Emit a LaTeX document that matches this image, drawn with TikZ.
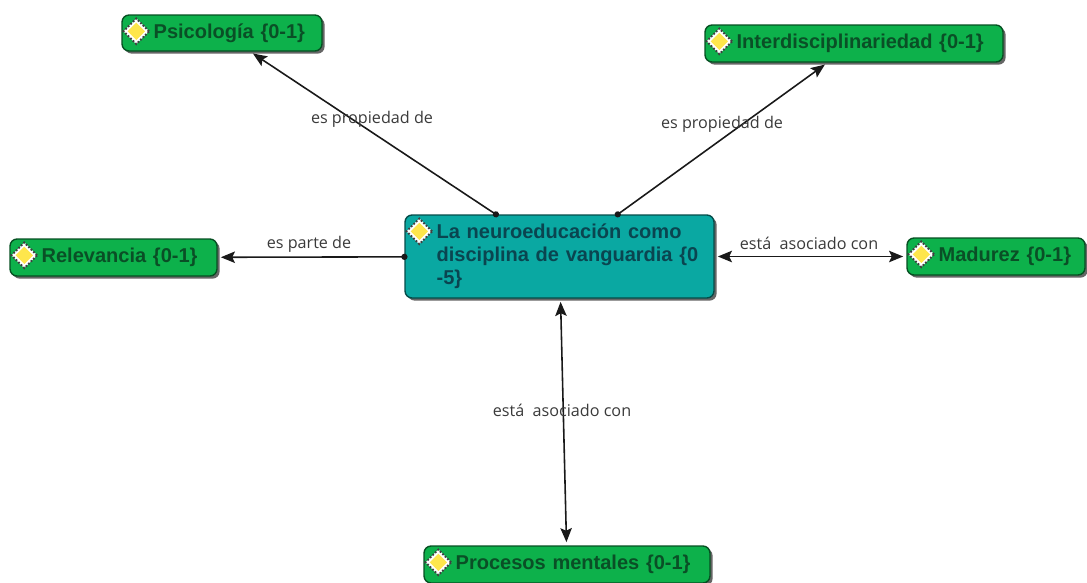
\documentclass[tikz,border=0pt]{standalone}
\usepackage{fontspec}
\setmainfont{Liberation Sans}
\newfontfamily\linkfont{Open Sans}
\usetikzlibrary{arrows.meta,shapes.geometric,shadows}
\definecolor{boxgreen}{HTML}{0DB14B}
\definecolor{boxteal}{HTML}{0AA8A2}
\definecolor{textgreen}{HTML}{0A4F26}
\definecolor{textteal}{HTML}{0A4550}
\definecolor{linktext}{HTML}{3A3A3A}
\tikzset{
  conceptbox/.style={draw=#1!45!black,fill=#1,line width=0.8pt,rounded corners=4pt,
    drop shadow={shadow xshift=1.5pt,shadow yshift=-1.5pt,fill=black,opacity=0.6},
    inner xsep=0pt,inner ysep=0pt,align=left,font=\fontsize{11.4}{13}\selectfont\bfseries},
  iconhalo/.style={diamond,draw=black!75,fill=white,dash pattern=on 1pt off 1pt,line width=1.1pt,
    minimum size=15pt,inner sep=0pt},
  iconmark/.style={diamond,fill=yellow!80!orange!70,minimum size=10pt,inner sep=0pt},
  linklabel/.style={text=linktext,font=\linkfont\fontsize{9.2}{11}\selectfont,inner sep=0pt},
  onearrow/.style={{Circle[length=3.5pt]}-{Stealth[length=8pt,width=6.5pt,inset=1.5pt]},
    line width=0.9pt,black!90,shorten <=-1.8pt,shorten >=1.8pt},
  bothways/.style={{Stealth[length=8pt,width=6.5pt,inset=1.5pt]}-{Stealth[length=8pt,width=6.5pt,inset=1.5pt]},
    line width=0.9pt,black!90,shorten <=1.8pt,shorten >=1.8pt}
}
\newcommand{\gap}{\hspace*{18pt}}
\begin{document}
\begin{tikzpicture}[x=0.02cm,y=-0.02cm]
\useasboundingbox (0,0) rectangle (1087,582);

\node[conceptbox=boxteal,text=textteal,text width=6.18cm,minimum height=1.66cm] (central) at (559.5,256.5)
  {\gap La neuroeducación como\\\gap disciplina de vanguardia \{0\\\gap -5\}};
\node[conceptbox=boxgreen,text=textgreen,text width=4cm,minimum height=0.72cm] (psicologia) at (222,33)
  {\gap Psicología \{0-1\}};
\node[conceptbox=boxgreen,text=textgreen,text width=5.96cm,minimum height=0.74cm] (interdisciplina) at (854,43.5)
  {\gap Interdisciplinariedad \{0-1\}};
\node[conceptbox=boxgreen,text=textgreen,text width=4.14cm,minimum height=0.74cm] (relevancia) at (113.5,257.5)
  {\gap Relevancia \{0-1\}};
\node[conceptbox=boxgreen,text=textgreen,text width=3.56cm,minimum height=0.74cm] (madurez) at (996,256.5)
  {\gap Madurez \{0-1\}};
\node[conceptbox=boxgreen,text=textgreen,text width=5.72cm,minimum height=0.74cm] (procesos) at (567,564.5)
  {\gap Procesos mentales \{0-1\}};

% iconos
\foreach \boxname in {central,psicologia,interdisciplina,relevancia,madurez,procesos} {
  \node[iconhalo] (halo\boxname) at ([shift={(15,17)}]\boxname.north west) {};
  \node[iconmark] (mark\boxname) at (halo\boxname) {};
}

% enlaces
\draw[onearrow] (central) -- (psicologia);
\draw[onearrow] (central) -- (interdisciplina);
\draw[onearrow] (central) -- (relevancia);
\draw[bothways] (central) -- (madurez);
\draw[bothways] (central) -- (procesos);

\node[linklabel] (lblpsicologia) at (372,119) {es propiedad de};
\node[linklabel] (lblinterdisciplina) at (722,124) {es propiedad de};
\node[linklabel] (lblrelevancia) at (309,244) {es parte de};
\node[linklabel] (lblmadurez) at (809,243) {está\ \ asociado con};
\node[linklabel] (lblprocesos) at (562,410) {está\ \ asociado con};
\end{tikzpicture}
\end{document}
